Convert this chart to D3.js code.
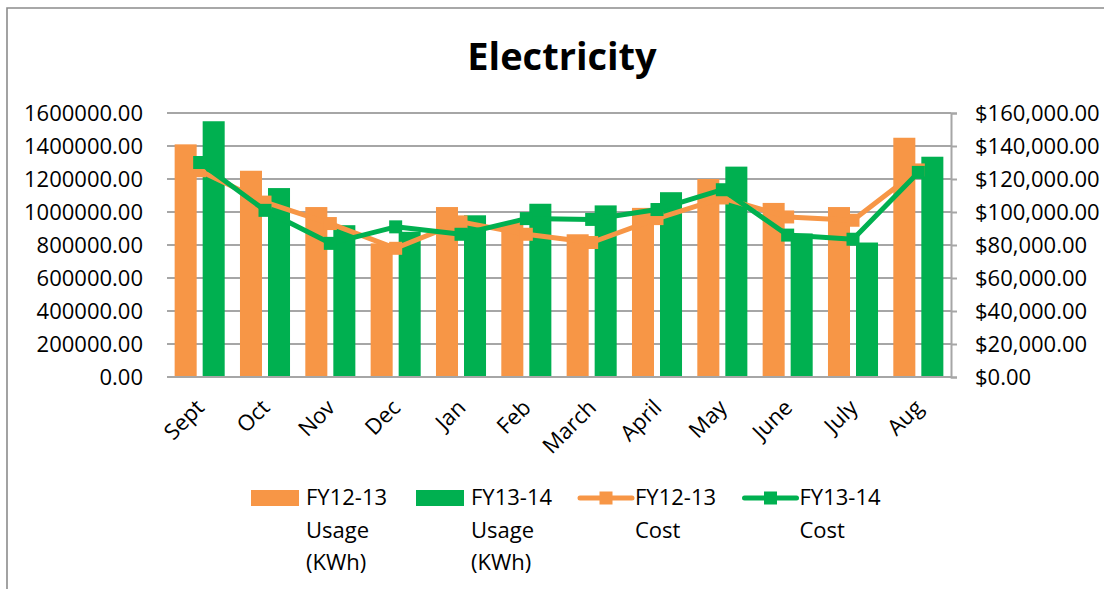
<!DOCTYPE html>
<html><head><meta charset="utf-8">
<script src="https://cdn.jsdelivr.net/npm/d3@7"></script>
<style>body{margin:0;background:#fff}svg{display:block}text{font-family:"Open Sans",sans-serif;fill:#000}</style>
</head><body><svg id="c" width="1104" height="589"></svg>
<script>
const months = ["Sept","Oct","Nov","Dec","Jan","Feb","March","April","May","June","July","Aug"];
const usageFY1213 = [1410000,1250000,1030000,810000,1030000,935000,865000,1025000,1200000,1055000,1030000,1450000];
const usageFY1314 = [1550000,1145000,920000,880000,980000,1050000,1040000,1120000,1275000,870000,815000,1335000];
const costFY1213 = [125000,106000,93000,78000,94000,86500,81500,96000,108500,97000,95000,125500];
const costFY1314 = [130000,101000,81000,91000,86500,96000,95500,101500,113500,86000,83500,124000];
const usageTicks = [0,200000,400000,600000,800000,1000000,1200000,1400000,1600000];
const costTicks = [0,20000,40000,60000,80000,100000,120000,140000,160000];
const legendLabels = [["FY12-13","Usage","(KWh)"],["FY13-14","Usage","(KWh)"],["FY12-13","Cost"],["FY13-14","Cost"]];
const ORANGE = "#F79646", GREEN = "#00B050", GRID = "#a6a6a6";

const svg = d3.select("#c");
const L = 167, R = 951, T = 113, B = 377;
const x = d3.scaleBand().domain(months).range([L, R]);
const bw = x.bandwidth();
const groupW = bw * 0.766;
const x1 = d3.scaleBand().domain([0, 1]).range([(bw - groupW) / 2, (bw + groupW) / 2]).paddingInner(0.214);
const yL = d3.scaleLinear().domain([0, 1600000]).range([B, T]);
const yR = d3.scaleLinear().domain([0, 160000]).range([B, T]);

// chart frame
svg.append("path").attr("d", "M7,589V8H1104").attr("fill", "none").attr("stroke", "#8c8c8c").attr("stroke-width", 1.6);

// title
svg.append("text").attr("x", 562).attr("y", 70).attr("text-anchor", "middle")
  .style("font-size", "38px").style("font-weight", "bold").text("Electricity");

// gridlines
svg.append("g").selectAll("line").data(usageTicks).join("line")
  .attr("x1", L).attr("x2", R).attr("y1", d => yL(d)).attr("y2", d => yL(d))
  .attr("stroke", GRID).attr("stroke-width", 2);

// left axis
const gL = svg.append("g").attr("transform", `translate(${L},0)`)
  .call(d3.axisLeft(yL).tickValues(usageTicks).tickSize(0).tickPadding(24).tickFormat(d => d3.format(".2f")(d)));
gL.select(".domain").remove();
gL.selectAll("text").style("font-size", "22px").style("font-family", "'Open Sans',sans-serif").attr("fill", "#000");

// right axis
const gR = svg.append("g").attr("transform", `translate(${R},0)`)
  .call(d3.axisRight(yR).tickValues(costTicks).tickSize(6).tickPadding(18).tickFormat(d => "$" + d3.format(",.2f")(d)));
gR.select(".domain").attr("stroke", GRID).attr("stroke-width", 2);
gR.selectAll(".tick line").attr("stroke", GRID).attr("stroke-width", 2);
gR.selectAll("text").style("font-size", "22px").style("font-family", "'Open Sans',sans-serif").attr("fill", "#000");

// bars
const series = [usageFY1213, usageFY1314];
const barColors = [ORANGE, GREEN];
series.forEach((vals, si) => {
  svg.append("g").selectAll("rect").data(vals).join("rect")
    .attr("x", (d, i) => x(months[i]) + x1(si))
    .attr("width", x1.bandwidth())
    .attr("y", d => yL(d))
    .attr("height", d => B - yL(d))
    .attr("fill", barColors[si]);
});

// x axis line
svg.append("line").attr("x1", L).attr("x2", R).attr("y1", B).attr("y2", B)
  .attr("stroke", GRID).attr("stroke-width", 2);

// x labels
svg.append("g").selectAll("text").data(months).join("text")
  .attr("transform", d => `translate(${x(d) + bw / 2 + 6},409) rotate(-45)`)
  .attr("text-anchor", "end").style("font-size", "22px").text(d => d);

// lines
const costs = [costFY1213, costFY1314];
const MS = 13;
costs.forEach((vals, si) => {
  const line = d3.line().x((d, i) => x(months[i]) + bw / 2).y(d => yR(d));
  svg.append("path").datum(vals).attr("d", line).attr("fill", "none")
    .attr("stroke", barColors[si]).attr("stroke-width", 5).attr("stroke-linejoin", "round").attr("stroke-linecap", "round");
  svg.append("g").selectAll("rect").data(vals).join("rect")
    .attr("x", (d, i) => x(months[i]) + bw / 2 - MS / 2)
    .attr("y", d => yR(d) - MS / 2)
    .attr("width", MS).attr("height", MS).attr("fill", barColors[si]);
});

// legend
const legX = [251, 416, 580, 744.5];
const legColors = [ORANGE, GREEN, ORANGE, GREEN];
legendLabels.forEach((lines, i) => {
  const g = svg.append("g").attr("transform", `translate(${legX[i]},0)`);
  if (i < 2) {
    g.append("rect").attr("x", 0).attr("y", 490).attr("width", 48).attr("height", 16).attr("fill", legColors[i]);
  } else {
    g.append("line").attr("x1", 0).attr("x2", 52).attr("y1", 498).attr("y2", 498)
      .attr("stroke", legColors[i]).attr("stroke-width", 5).attr("stroke-linecap", "round");
    g.append("rect").attr("x", 26 - MS / 2).attr("y", 498 - MS / 2).attr("width", MS).attr("height", MS).attr("fill", legColors[i]);
  }
  lines.forEach((t, k) => {
    g.append("text").attr("x", 55).attr("y", 505 + k * 32.5).style("font-size", "22px").text(t);
  });
});
</script>
</body></html>
